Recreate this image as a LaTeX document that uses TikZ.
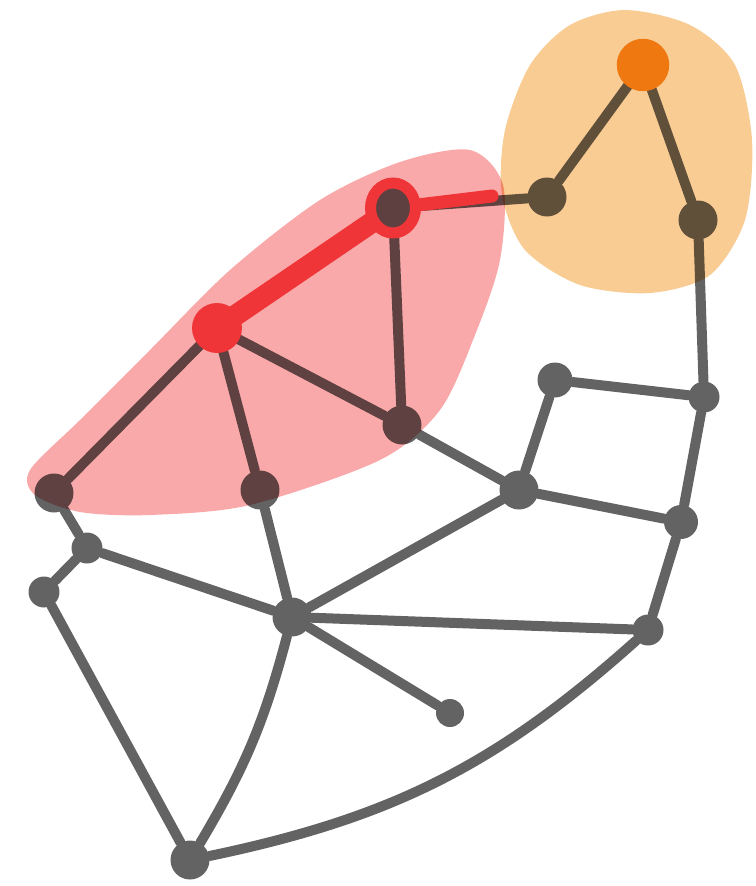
\documentclass[tikz,border=0pt]{standalone}
\usetikzlibrary{positioning}
\definecolor{linkgrey}{HTML}{636363}
\definecolor{hotred}{HTML}{F03538}
\definecolor{hotorange}{HTML}{F07810}
\definecolor{pinkzone}{HTML}{F9A9A9}
\definecolor{orangezone}{HTML}{F9CC94}
\definecolor{ringcore}{HTML}{5F4040}
\tikzset{
  link/.style={draw=linkgrey, line width=0.2cm, line cap=round, line join=round},
  hotlink/.style={draw=hotred, line cap=round, line join=round},
  dot/.style={circle, fill=linkgrey, inner sep=0pt, minimum size=0.62cm},
  bigdot/.style={circle, fill=linkgrey, inner sep=0pt, minimum size=0.78cm},
  reddot/.style={circle, fill=hotred, inner sep=0pt, minimum size=1.0cm},
  ringdot/.style={ellipse, fill=ringcore, draw=hotred, line width=0.22cm, inner sep=0pt, minimum width=0.9cm, minimum height=1.0cm},
  peakdot/.style={circle, fill=hotorange, inner sep=0pt, minimum size=1.05cm},
  zone/.style={blend mode=multiply}
}
\usetikzlibrary{shapes.geometric}
\begin{document}
\begin{tikzpicture}[x=0.02cm, y=-0.02cm]
  \useasboundingbox (0,0) rectangle (755,886);
  % nodes
  \node[bigdot] (ol) at (547,197) {};
  \node[bigdot] (or) at (698,220) {};
  \node[bigdot] (rin) at (402,425) {};
  \node[bigdot] (rleft) at (54,493) {};
  \node[bigdot] (rmid) at (260,490) {};
  \node[dot, minimum size=0.7cm] (sqa) at (555,380) {};
  \node[dot] (sqb) at (704,397) {};
  \node[bigdot] (mid) at (519,490) {};
  \node[dot, minimum size=0.68cm] (sqc) at (681,522) {};
  \node[dot] (lk) at (87,548) {};
  \node[dot] (lw) at (44,592) {};
  \node[bigdot] (center) at (292,617) {};
  \node[dot] (rt) at (648,630) {};
  \node[dot, minimum size=0.56cm] (tail) at (450,713) {};
  \node[bigdot] (bottom) at (190,860) {};
  \coordinate (ring) at (393,208);
  \coordinate (red) at (217,328);
  \coordinate (peak) at (643,65);
  \coordinate (cut) at (492,196);
  % grey links
  \draw[link] (peak) -- (ol);
  \draw[link] (peak) -- (or);
  \draw[link] (ring) -- (ol);
  \draw[link] (ring) -- (rin);
  \draw[link] (red) -- (rin);
  \draw[link] (red) -- (rmid);
  \draw[link] (red) -- (rleft);
  \draw[link] (or) -- (sqb);
  \draw[link] (sqa) -- (sqb);
  \draw[link] (sqa) -- (mid);
  \draw[link] (sqb) -- (sqc);
  \draw[link] (mid) -- (rin);
  \draw[link] (mid) -- (sqc);
  \draw[link] (mid) -- (center);
  \draw[link] (sqc) -- (rt);
  \draw[link] (rt) -- (center);
  \draw[link] (rt) to[bend left=15] (bottom);
  \draw[link] (center) -- (rmid);
  \draw[link] (center) -- (lk);
  \draw[link] (center) -- (tail);
  \draw[link] (center) to[bend left=8] (bottom);
  \draw[link] (lk) -- (rleft);
  \draw[link] (lk) -- (lw);
  \draw[link] (lw) -- (bottom);
  % zones
  \begin{scope}[zone]
    \fill[orangezone] plot[smooth cycle] coordinates {(625,10) (690,25) (735,65) (752,140) (745,220) (710,275) (650,293) (580,285) (525,250) (502,195) (505,130) (530,65) (570,25)};
    \fill[pinkzone] plot[smooth cycle] coordinates {(30,470) (80,420) (150,350) (230,270) (320,200) (400,162) (470,150) (503,185) (500,260) (475,335) (440,410) (380,460) (250,505) (150,515) (80,512) (35,495)};
  \end{scope}
  % red path
  \draw[hotlink, line width=0.42cm] (red) -- (ring);
  \draw[hotlink, line width=0.26cm] (ring) -- (cut);
  \node[reddot] (redn) at (red) {};
  \node[ringdot] (ringn) at (ring) {};
  \node[peakdot] (peakn) at (peak) {};
\end{tikzpicture}
\end{document}
